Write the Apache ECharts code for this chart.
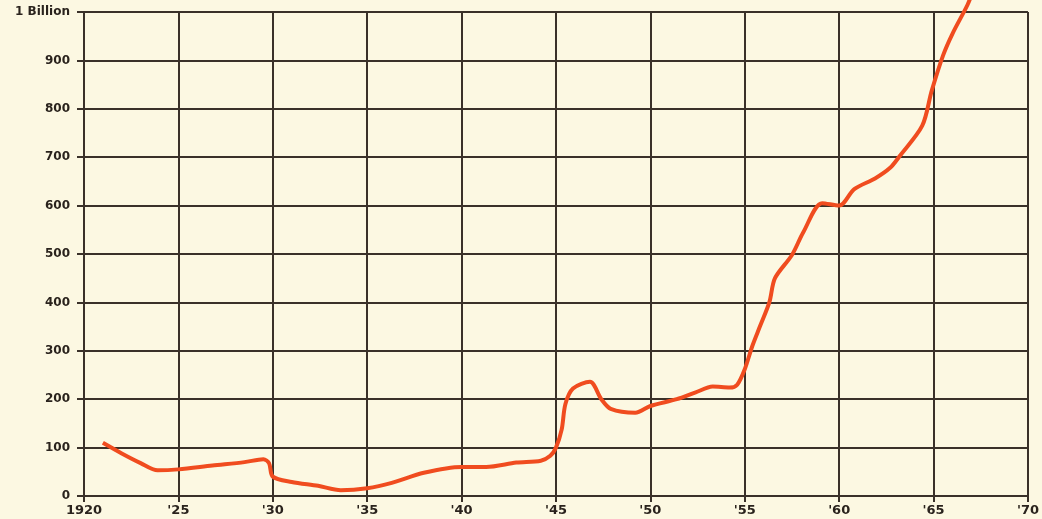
<!DOCTYPE html>
<html lang="en">
<head>
	<meta charset="UTF-8">
	<title>1920 - 1970</title>
	<script src="https://cdn.jsdelivr.net/npm/echarts@6/dist/echarts.min.js"></script>
	<style>
		html, body { margin: 0; padding: 0; background: #fcf8e2; }
		#chart { width: 1042px; height: 519px; }
	</style>
</head>
<body>
	<div id="chart"></div>
	<script>
	// values, millions
	var years = [1921, 1922, 1923, 1923.9, 1925, 1926.8, 1928.5, 1929.5, 1929.8, 1930, 1931, 1932.4, 1933.6, 1935, 1936.3, 1938, 1940, 1941.3, 1942.9, 1944.2, 1944.7, 1945, 1945.3, 1945.5, 1945.9, 1946.8, 1947.4, 1947.9, 1949.2, 1950, 1951.4, 1952.4, 1953.3, 1954.2, 1954.6, 1955, 1955.4, 1955.8, 1956.3, 1956.6, 1957.5, 1958.1, 1959.1, 1960, 1960.8, 1961.9, 1962.7, 1963.2, 1964.4, 1964.9, 1965.5, 1966, 1966.8, 1967.1];
	var values = [110, 88, 68, 53, 55, 63, 70, 76, 68, 40, 29, 21, 12, 16, 27, 48, 60, 60, 69, 73, 83, 100, 137, 190, 222, 236, 200, 180, 172, 186, 200, 214, 226, 224, 230, 262, 310, 350, 400, 450, 498, 545, 605, 600, 634, 656, 678, 702, 765, 837, 910, 955, 1015, 1045];
	var xTickLabels = ['1920', "'25", "'30", "'35", "'40", "'45", "'50", "'55", "'60", "'65", "'70"];
	var yTickLabels = ['0', '100', '200', '300', '400', '500', '600', '700', '800', '900', '1 Billion'];

	var points = [];
	for (var i = 0; i < years.length; i++) {
		points.push([years[i], values[i]]);
	}

	var ink = '#3a3129';
	var labelFont = {
		color: '#2a231d',
		fontFamily: 'DejaVu Sans',
		fontWeight: 'bold'
	};

	var option = {
		backgroundColor: '#fcf8e2',
		animation: false,
		grid: { left: 84, right: 12, top: 12, bottom: 23 },
		xAxis: {
			type: 'value',
			min: 1920,
			max: 1970,
			interval: 5,
			axisLine: { show: true, lineStyle: { color: ink, width: 2 } },
			axisTick: { show: true, length: 6, lineStyle: { color: ink, width: 2 } },
			splitLine: { show: true, lineStyle: { color: ink, width: 2 } },
			axisLabel: Object.assign({
				margin: 8,
				fontSize: 13,
				showMaxLabel: true,
				formatter: function (v) { return xTickLabels[Math.round((v - 1920) / 5)]; }
			}, labelFont)
		},
		yAxis: {
			type: 'value',
			min: 0,
			max: 1000,
			interval: 100,
			axisLine: { show: true, lineStyle: { color: ink, width: 2 } },
			axisTick: { show: true, length: 7, lineStyle: { color: ink, width: 2 } },
			splitLine: { show: true, lineStyle: { color: ink, width: 2 } },
			axisLabel: Object.assign({
				margin: 14,
				fontSize: 12,
				formatter: function (v) { return yTickLabels[Math.round(v / 100)]; }
			}, labelFont)
		},
		series: [{
			type: 'line',
			data: points,
			smooth: 0.3,
			showSymbol: false,
			clip: false,
			lineStyle: { color: '#f04c1f', width: 4 }
		}]
	};

	var mychart = echarts.init(document.getElementById('chart'));
	mychart.setOption(option);
	</script>
</body>
</html>
